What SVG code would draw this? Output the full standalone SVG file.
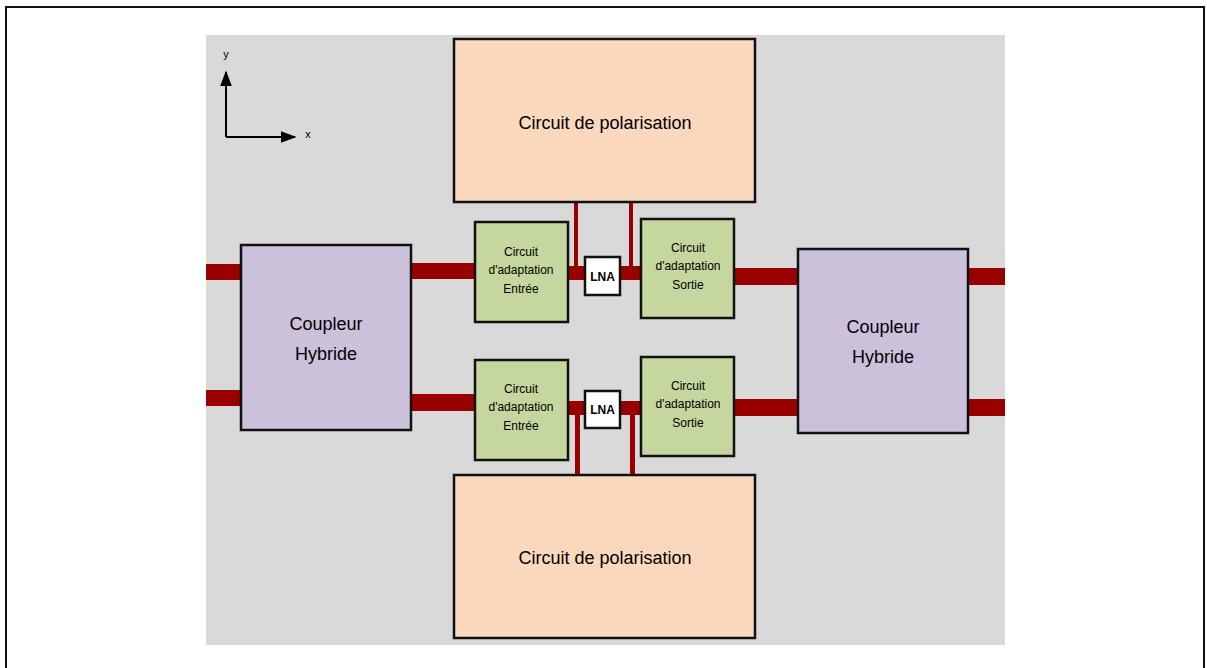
<svg xmlns="http://www.w3.org/2000/svg" width="1207" height="668" viewBox="0 0 1207 668">
<defs>
<style>
.box{stroke:#111;stroke-width:2.5}
.pol{fill:#FAD8BD}
.cpl{fill:#CCC1DA}
.adp{fill:#C5D69E}
.lna{fill:#fff}
.rf{fill:#990000}
.t{font-family:"Liberation Sans",Arial,sans-serif;fill:#000;text-anchor:middle}
.big{font-size:18px}
.sm{font-size:12px}
</style>
<marker id="ah" viewBox="0 0 10 10" refX="9" refY="5" markerWidth="16" markerHeight="12" markerUnits="userSpaceOnUse" orient="auto" preserveAspectRatio="none">
<path d="M0,0 L10,5 L0,10 z" fill="#000"/>
</marker>
</defs>
<rect x="0" y="0" width="1207" height="668" fill="#fff"/>
<path d="M6,670 V7 H1204 V670" fill="none" stroke="#111" stroke-width="2"/>
<rect x="206" y="35" width="799" height="610" fill="#D9D9D9"/>

<g id="connectors">
<rect class="rf" x="206" y="264" width="34" height="16"/>
<rect class="rf" x="206" y="390" width="34" height="16"/>
<rect class="rf" x="411" y="263" width="64" height="16"/>
<rect class="rf" x="411" y="394" width="64" height="17"/>
<rect class="rf" x="568" y="266" width="73" height="14"/>
<rect class="rf" x="568" y="401" width="73" height="14"/>
<rect class="rf" x="734" y="268" width="63" height="17"/>
<rect class="rf" x="734" y="399" width="63" height="17"/>
<rect class="rf" x="968" y="268" width="37" height="17"/>
<rect class="rf" x="968" y="399" width="37" height="17"/>
<rect class="rf" x="574" y="202" width="4" height="66"/>
<rect class="rf" x="629" y="202" width="4" height="66"/>
<rect class="rf" x="575" y="413" width="5" height="62"/>
<rect class="rf" x="630" y="413" width="5" height="62"/>
<path d="M226,137 H295" stroke="#000" stroke-width="2" fill="none" marker-end="url(#ah)" />
<path d="M226,137 V72" stroke="#000" stroke-width="2" fill="none" marker-end="url(#ah)"/>
<text class="t" x="226" y="58" font-size="11">y</text>
<text class="t" x="308" y="138" font-size="11">x</text>
</g>

<g id="pol-top"><rect class="box pol" x="454" y="39" width="301" height="163"/><text class="t big" x="605" y="129">Circuit de polarisation</text></g>
<g id="pol-bottom"><rect class="box pol" x="454" y="475" width="301" height="163"/><text class="t big" x="605" y="564">Circuit de polarisation</text></g>
<g id="coupler-left"><rect class="box cpl" x="241" y="245" width="170" height="185"/><text class="t big" x="326" y="330">Coupleur</text><text class="t big" x="326" y="360">Hybride</text></g>
<g id="coupler-right"><rect class="box cpl" x="798" y="249" width="170" height="184"/><text class="t big" x="883" y="333">Coupleur</text><text class="t big" x="883" y="363">Hybride</text></g>
<g id="adapt-in-top"><rect class="box adp" x="475" y="222" width="93" height="100"/><text class="t sm" x="521" y="256">Circuit</text><text class="t sm" x="521" y="274">d'adaptation</text><text class="t sm" x="521" y="293">Entrée</text></g>
<g id="adapt-out-top"><rect class="box adp" x="641" y="219" width="93" height="99"/><text class="t sm" x="688" y="252">Circuit</text><text class="t sm" x="688" y="270">d'adaptation</text><text class="t sm" x="688" y="289">Sortie</text></g>
<g id="adapt-in-bottom"><rect class="box adp" x="475" y="360" width="93" height="100"/><text class="t sm" x="521" y="393">Circuit</text><text class="t sm" x="521" y="411">d'adaptation</text><text class="t sm" x="521" y="430">Entrée</text></g>
<g id="adapt-out-bottom"><rect class="box adp" x="641" y="357" width="93" height="99"/><text class="t sm" x="688" y="390">Circuit</text><text class="t sm" x="688" y="408">d'adaptation</text><text class="t sm" x="688" y="427">Sortie</text></g>
<g id="lna-top"><rect class="box lna" x="585" y="257" width="35" height="38"/><text class="t" x="602.5" y="281" font-size="12" font-weight="bold">LNA</text></g>
<g id="lna-bottom"><rect class="box lna" x="585" y="391" width="35" height="37"/><text class="t" x="602.5" y="414" font-size="12" font-weight="bold">LNA</text></g>
</svg>
